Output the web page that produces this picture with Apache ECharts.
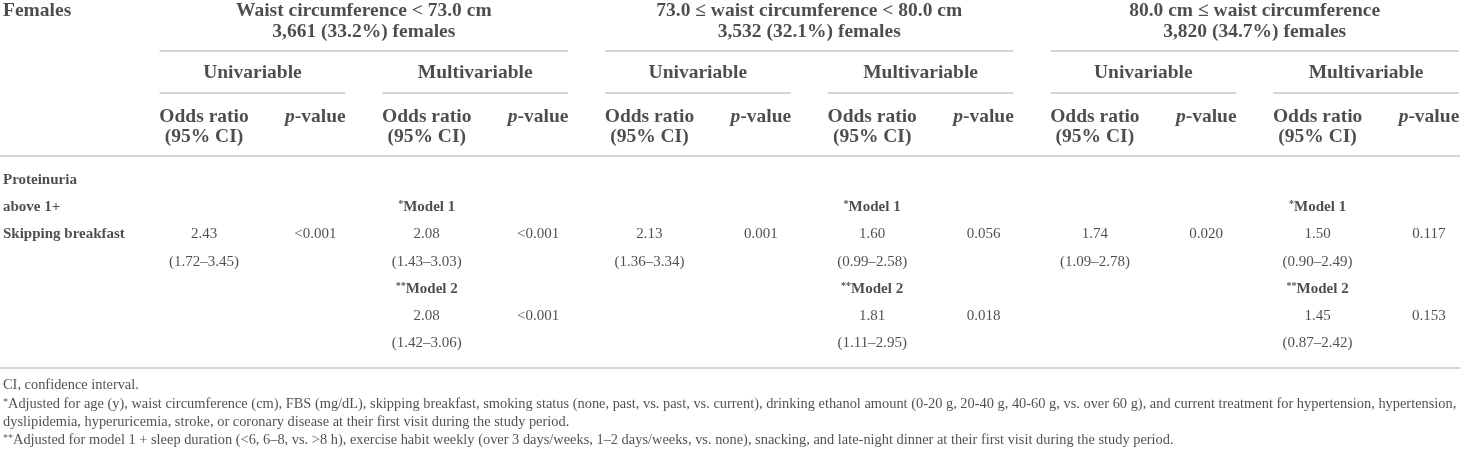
<!DOCTYPE html>
<html>
<head>
<meta charset="utf-8">
<title>Skipping breakfast and proteinuria by waist circumference</title>
<script src="https://cdn.jsdelivr.net/npm/echarts@6/dist/echarts.min.js"></script>
<style>
  html, body { margin: 0; padding: 0; background: #fff; }
  #chart { width: 1460px; height: 450px; }
</style>
</head>
<body>
<div id="chart"></div>
<script>
// table content
const cornerLabel = "Females";
const groupTitles = ["Waist circumference < 73.0 cm", "73.0 ≤ waist circumference < 80.0 cm", "80.0 cm ≤ waist circumference"];
const groupCounts = ["3,661 (33.2%) females", "3,532 (32.1%) females", "3,820 (34.7%) females"];
const modelTypes = ["Univariable", "Multivariable"];
const statHeaders = ["Odds ratio", "(95% CI)", "p-value"];
const rowLabels = ["Proteinuria", "above 1+", "Skipping breakfast"];
const modelLabels = ["*Model 1", "**Model 2"];

const uniOR = ["2.43", "2.13", "1.74"];
const uniCI = ["(1.72–3.45)", "(1.36–3.34)", "(1.09–2.78)"];
const uniP = ["<0.001", "0.001", "0.020"];
const model1OR = ["2.08", "1.60", "1.50"];
const model1CI = ["(1.43–3.03)", "(0.99–2.58)", "(0.90–2.49)"];
const model1P = ["<0.001", "0.056", "0.117"];
const model2OR = ["2.08", "1.81", "1.45"];
const model2CI = ["(1.42–3.06)", "(1.11–2.95)", "(0.87–2.42)"];
const model2P = ["<0.001", "0.018", "0.153"];

const footnotes = [
  "CI, confidence interval.",
  "*Adjusted for age (y), waist circumference (cm), FBS (mg/dL), skipping breakfast, smoking status (none, past, vs. past, vs. current), drinking ethanol amount (0-20 g, 20-40 g, 40-60 g, vs. over 60 g), and current treatment for hypertension, hypertension,",
  "dyslipidemia, hyperuricemia, stroke, or coronary disease at their first visit during the study period.",
  "**Adjusted for model 1 + sleep duration (<6, 6–8, vs. >8 h), exercise habit weekly (over 3 days/weeks, 1–2 days/weeks, vs. none), snacking, and late-night dinner at their first visit during the study period."
];

// layout: columns and rows in px, everything else in column / row units
const colStart = 204, colWidth = 111.36;
const rowStart = 180, rowHeight = 27.2;
const W = 1460, H = 450;
const xMin = -colStart / colWidth, xMax = xMin + W / colWidth;
const yMin = -rowStart / rowHeight, yMax = yMin + H / rowHeight;
const labelX = xMin + 3 / colWidth;
const inset = { left: 0.4, right: 0.27 };
const hdr = { title: -6.22, count: -5.44, groupLine: -4.74, model: -3.93, modelLine: -3.2, stat1: -2.32, stat2: -1.57, headLine: -0.88, bottomLine: 6.91 };
const footRows = [7.55, 8.24, 8.91, 9.58];
const hdrSize = 19.5, bodySize = 15, footSize = 14.4;

const font = '"Liberation Serif", "Times New Roman", serif';
const ink = "#231f20";

function rich(size, bold) {
  const w = bold ? "bold" : "normal";
  return {
    s: { fontSize: Math.round(size * 0.68), fontWeight: w, fontFamily: font, color: ink, verticalAlign: "top", padding: [0, 0, Math.round(size * 0.3), 0] },
    i: { fontSize: size, fontWeight: w, fontStyle: "italic", fontFamily: font, color: ink }
  };
}

function cell(x, y, text, size, bold, left) {
  let t = text.replace(/^(\*+)/, "{s|$1}").replace(/^p-/, "{i|p}-");
  return {
    value: [x, y],
    label: {
      formatter: t,
      fontSize: size,
      fontWeight: bold ? "bold" : "normal",
      position: left ? "right" : "inside",
      distance: 0,
      rich: rich(size, bold)
    }
  };
}

let cells = [];
let segs = [];

cells.push(cell(labelX, hdr.title, cornerLabel, hdrSize, true, true));
rowLabels.forEach((n, i) => cells.push(cell(labelX, i, n, bodySize, true, true)));

groupTitles.forEach((g, gi) => {
  const base = gi * 4;
  const gx1 = base - inset.left, gx2 = base + 3 + inset.right;
  cells.push(cell((gx1 + gx2) / 2, hdr.title, g, hdrSize, true));
  cells.push(cell((gx1 + gx2) / 2, hdr.count, groupCounts[gi], hdrSize, true));
  segs.push([gx1, gx2, hdr.groupLine]);

  modelTypes.forEach((m, mi) => {
    const c = base + mi * 2;
    const mx1 = c - inset.left, mx2 = c + 1 + inset.right;
    cells.push(cell((mx1 + mx2) / 2, hdr.model, m, hdrSize, true));
    segs.push([mx1, mx2, hdr.modelLine]);
    cells.push(cell(c, hdr.stat1, statHeaders[0], hdrSize, true));
    cells.push(cell(c, hdr.stat2, statHeaders[1], hdrSize, true));
    cells.push(cell(c + 1, hdr.stat1, statHeaders[2], hdrSize, true));
  });

  // body
  cells.push(cell(base + 2, 1, modelLabels[0], bodySize, true));
  cells.push(cell(base, 2, uniOR[gi], bodySize));
  cells.push(cell(base + 1, 2, uniP[gi], bodySize));
  cells.push(cell(base + 2, 2, model1OR[gi], bodySize));
  cells.push(cell(base + 3, 2, model1P[gi], bodySize));
  cells.push(cell(base, 3, uniCI[gi], bodySize));
  cells.push(cell(base + 2, 3, model1CI[gi], bodySize));
  cells.push(cell(base + 2, 4, modelLabels[1], bodySize, true));
  cells.push(cell(base + 2, 5, model2OR[gi], bodySize));
  cells.push(cell(base + 3, 5, model2P[gi], bodySize));
  cells.push(cell(base + 2, 6, model2CI[gi], bodySize));
});

segs.push([xMin, xMax, hdr.headLine]);
segs.push([xMin, xMax, hdr.bottomLine]);

footnotes.forEach((f, i) => cells.push(cell(labelX, footRows[i], f, footSize, false, true)));

const chart = echarts.init(document.getElementById("chart"));
chart.setOption({
  animation: false,
  backgroundColor: "#fff",
  grid: { left: 0, right: 0, top: 0, bottom: 0 },
  xAxis: { type: "value", min: xMin, max: xMax, show: false },
  yAxis: { type: "value", min: yMin, max: yMax, inverse: true, show: false },
  series: [
    {
      type: "custom",
      silent: true,
      data: segs,
      encode: { x: [0, 1], y: 2 },
      renderItem: (params, api) => {
        const a = api.coord([api.value(0), api.value(2)]);
        const b = api.coord([api.value(1), api.value(2)]);
        return {
          type: "line",
          shape: { x1: a[0], y1: a[1], x2: b[0], y2: b[1] },
          style: { stroke: "#c8c8c8", lineWidth: 1.5 }
        };
      }
    },
    {
      type: "scatter",
      silent: true,
      symbolSize: 0,
      data: cells,
      label: { show: true, color: ink, fontFamily: font }
    }
  ]
});
</script>
</body>
</html>
